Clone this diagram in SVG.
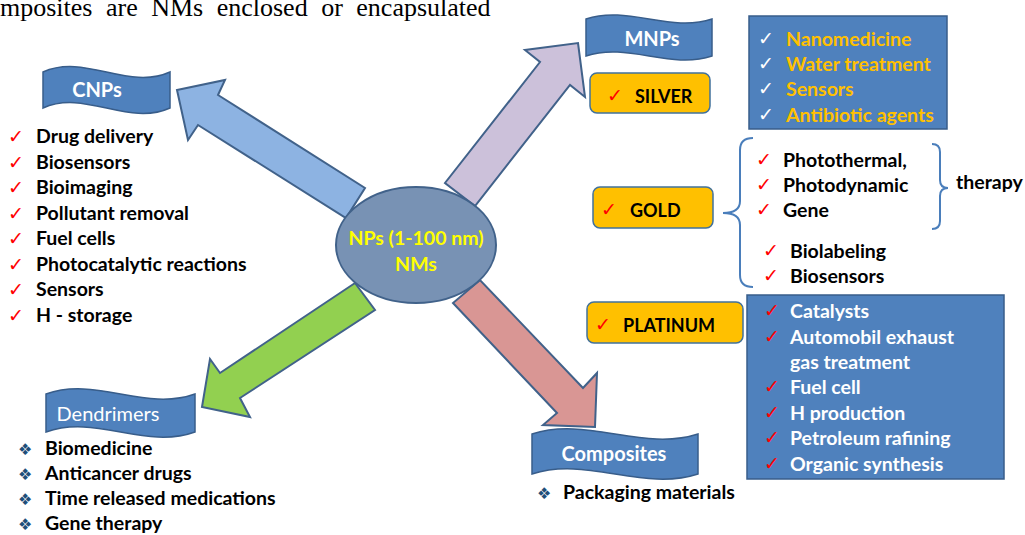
<svg xmlns="http://www.w3.org/2000/svg" width="1025" height="535" viewBox="0 0 1025 535">
<style>
.t{font-family:Lato,"Liberation Sans",sans-serif;font-weight:bold;font-size:19.5px;fill:#000}
.bx{font-family:Lato,"Liberation Sans",sans-serif;font-weight:bold;font-size:18px;fill:#000}
.ban{fill:#4f81bd;stroke:#385d8a;stroke-width:1.5}
.bt{font-family:Lato,"Liberation Sans",sans-serif;font-size:20px;fill:#fff;text-anchor:middle}
.arr{stroke:#41628a;stroke-width:2;stroke-linejoin:miter}
.ck{font-family:"DejaVu Sans",sans-serif;font-size:19px;fill:#ff0000}
.ckw{font-family:"DejaVu Sans",sans-serif;font-size:19px;fill:#fff}
.bul{font-family:"DejaVu Sans",sans-serif;font-size:16px;fill:#1f4e79}
.yb{fill:#ffc000;stroke:#41719c;stroke-width:1.5}
.bb{fill:#4f81bd;stroke:#385d8a;stroke-width:1.5}
.yt{font-family:Lato,"Liberation Sans",sans-serif;font-weight:bold;font-size:19.5px;fill:#ffc000}
.wt{font-family:Lato,"Liberation Sans",sans-serif;font-weight:bold;font-size:19.5px;fill:#fff}
.br{fill:none;stroke:#4a7ebb;stroke-width:2}
</style>

<text x="0" y="16" font-family="Liberation Serif" font-size="26" word-spacing="7" fill="#000">mposites are NMs enclosed or encapsulated</text>

<g id="connectors">
  <polygon class="arr" fill="#8db3e2" points="177,90 225,80 218,95 365,188 346,218 198,125 188,140"/>
  <polygon class="arr" fill="#ccc1da" points="578,43 585,97 570,85 475,206 445,183 540,62 525,50"/>
  <polygon class="arr" fill="#92d050" points="202,407 210,359 220,373 355,283 375,310 240,398 250,417"/>
  <polygon class="arr" fill="#d99694" points="595,427 597,373 583,388 480,280 453,303 557,413 543,425"/>
</g>

<g id="center">
  <ellipse cx="416" cy="245" rx="80" ry="58" fill="#7892b4" stroke="#41628a" stroke-width="2"/>
  <text x="416" y="245" text-anchor="middle" font-family="Lato,'Liberation Sans',sans-serif" font-weight="bold" font-size="19.5" fill="#ffff00">NPs (1-100 nm)</text>
  <text x="416" y="271" text-anchor="middle" font-family="Lato,'Liberation Sans',sans-serif" font-weight="bold" font-size="19.5" fill="#ffff00">NMs</text>
</g>

<g id="cnps">
  <path class="ban" d="M43,72 C85,53 128,91 170,72 L170,108 C128,127 85,89 43,108 Z"/>
  <text class="bt" x="97" y="97" font-weight="bold" font-size="21">CNPs</text>
  <g class="ck">
    <text x="8" y="143">✓</text><text x="8" y="168.5">✓</text><text x="8" y="194">✓</text><text x="8" y="219.5">✓</text>
    <text x="8" y="245">✓</text><text x="8" y="270.5">✓</text><text x="8" y="296">✓</text><text x="8" y="321.5">✓</text>
  </g>
  <text class="t" x="36" y="143">Drug delivery</text>
  <text class="t" x="36" y="168.5">Biosensors</text>
  <text class="t" x="36" y="194">Bioimaging</text>
  <text class="t" x="36" y="219.5">Pollutant removal</text>
  <text class="t" x="36" y="245">Fuel cells</text>
  <text class="t" x="36" y="270.5">Photocatalytic reactions</text>
  <text class="t" x="36" y="296">Sensors</text>
  <text class="t" x="36" y="321.5">H - storage</text>
</g>

<g id="dendrimers">
  <path class="ban" d="M46,394 C96,376 145,412 195,394 L195,432 C145,450 96,414 46,432 Z"/>
  <text class="bt" x="108" y="421">Dendrimers</text>
  <g class="bul">
    <text x="18" y="455">❖</text><text x="18" y="480">❖</text><text x="18" y="505">❖</text><text x="18" y="530">❖</text>
  </g>
  <text class="t" x="45" y="455">Biomedicine</text>
  <text class="t" x="45" y="480">Anticancer drugs</text>
  <text class="t" x="45" y="505">Time released medications</text>
  <text class="t" x="45" y="530">Gene therapy</text>
</g>

<g id="composites">
  <path class="ban" d="M532,434 C587,416 643,452 698,434 L698,474 C643,492 587,456 532,474 Z"/>
  <text class="bt" x="614" y="461" font-weight="bold">Composites</text>
  <text class="bul" x="537" y="499">❖</text>
  <text class="t" x="563" y="499">Packaging materials</text>
</g>

<g id="mnps">
  <path class="ban" d="M586,19 C628,5 670,33 712,19 L712,56 C670,70 628,42 586,56 Z"/>
  <text class="bt" x="652" y="46" font-weight="bold" font-size="22">MNPs</text>
</g>

<g id="silver">
  <rect class="yb" x="590" y="73" width="120" height="40" rx="7"/>
  <text class="ck" x="607" y="102" font-size="16">✓</text>
  <text class="bx" x="635" y="103">SILVER</text>
</g>

<g id="silver-uses">
  <rect class="bb" x="749" y="16" width="198" height="113"/>
  <text class="ckw" x="758" y="45">✓</text><text class="ckw" x="758" y="70">✓</text><text class="ckw" x="758" y="95">✓</text><text class="ckw" x="758" y="121">✓</text>
  <text class="yt" x="786" y="46">Nanomedicine</text>
  <text class="yt" x="786" y="71">Water treatment</text>
  <text class="yt" x="786" y="96">Sensors</text>
  <text class="yt" x="786" y="122">Antibiotic agents</text>
</g>

<g id="gold">
  <rect class="yb" x="593" y="187" width="120" height="41" rx="7"/>
  <text class="ck" x="601" y="216" font-size="16">✓</text>
  <text class="bx" x="630" y="217">GOLD</text>
</g>

<g id="gold-uses">
  <path class="br" d="M753,138 Q740,138 740,150 L740,201 Q740,213 723,213 Q740,213 740,225 L740,275 Q740,287 753,287"/>
  <path class="br" d="M932,144 Q940,144 940,152 L940,180 Q940,188 948,188 Q940,188 940,196 L940,221 Q940,229 932,229"/>
  <text class="ck" x="756" y="166">✓</text><text class="ck" x="756" y="191">✓</text><text class="ck" x="756" y="216">✓</text>
  <text class="ck" x="763" y="257">✓</text><text class="ck" x="763" y="282">✓</text>
  <text class="t" x="783" y="167">Photothermal,</text>
  <text class="t" x="783" y="192">Photodynamic</text>
  <text class="t" x="783" y="217">Gene</text>
  <text class="t" x="790" y="258">Biolabeling</text>
  <text class="t" x="790" y="283">Biosensors</text>
  <text class="t" x="956" y="189">therapy</text>
</g>

<g id="platinum">
  <rect class="yb" x="587" y="302" width="156" height="41" rx="7"/>
  <text class="ck" x="595" y="331" font-size="16">✓</text>
  <text class="bx" x="623" y="332">PLATINUM</text>
</g>

<g id="platinum-uses">
  <rect class="bb" x="747" y="295" width="257" height="184"/>
  <g class="ck">
    <text x="764" y="317">✓</text><text x="764" y="343">✓</text><text x="764" y="393">✓</text>
    <text x="764" y="419">✓</text><text x="764" y="444">✓</text><text x="764" y="470">✓</text>
  </g>
  <text class="wt" x="790" y="318">Catalysts</text>
  <text class="wt" x="790" y="344">Automobil exhaust</text>
  <text class="wt" x="790" y="369">gas treatment</text>
  <text class="wt" x="790" y="394">Fuel cell</text>
  <text class="wt" x="790" y="420">H production</text>
  <text class="wt" x="790" y="445">Petroleum rafining</text>
  <text class="wt" x="790" y="471">Organic synthesis</text>
</g>
</svg>
